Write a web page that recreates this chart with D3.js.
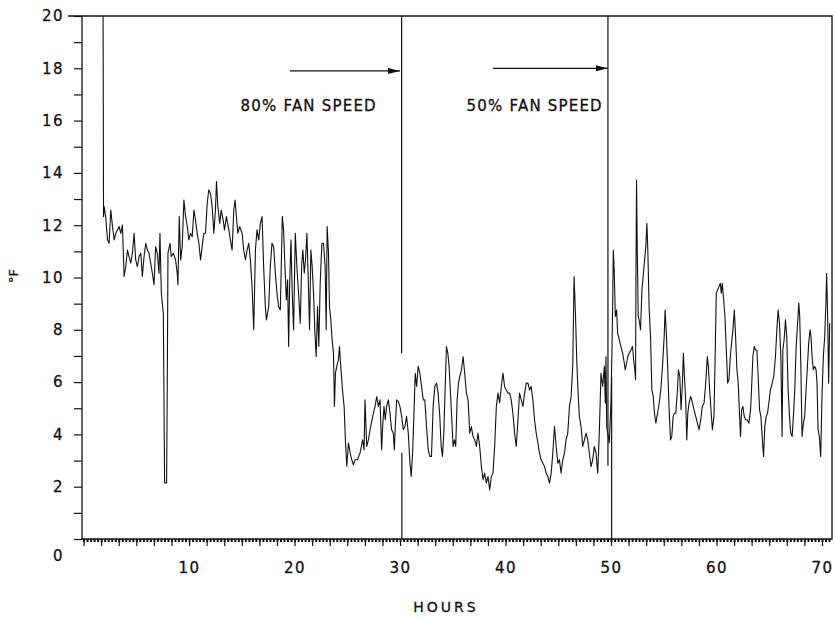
<!DOCTYPE html>
<html>
<head>
<meta charset="utf-8">
<script src="https://d3js.org/d3.v7.min.js"></script>
<style>
  body { margin: 0; background: #fff; }
  svg text { font-family: "DejaVu Sans", sans-serif; fill: #111; stroke: #111; stroke-width: 0.3px; }
</style>
</head>
<body>
<svg id="chart" width="836" height="618"></svg>
<script>

// temperature trace (hours, °F)
var hours = [
  1.85, 1.89, 1.95, 2.11, 2.27, 2.42, 2.58, 2.74, 2.90, 3.05, 3.21, 3.37, 3.53, 3.68, 3.84, 4.00,
  4.16, 4.31, 4.47, 4.63, 4.79, 4.94, 5.10, 5.26, 5.42, 5.57, 5.73, 5.89, 6.05, 6.20, 6.36, 6.52,
  6.68, 6.83, 6.99, 7.15, 7.24, 7.37, 7.56, 7.68, 7.87, 7.94, 8.00, 8.19, 8.31, 8.50, 8.72, 8.88,
  8.94, 9.07, 9.20, 9.35, 9.51, 9.67, 9.83, 9.98, 10.14, 10.30, 10.46, 10.61, 10.77, 10.93, 11.09, 11.24,
  11.40, 11.56, 11.72, 11.87, 12.03, 12.19, 12.35, 12.50, 12.60, 12.73, 12.91, 13.04, 13.23, 13.36, 13.54, 13.77,
  13.92, 14.08, 14.24, 14.36, 14.49, 14.62, 14.80, 15.03, 15.18, 15.34, 15.50, 15.66, 15.81, 15.97, 16.13, 16.29,
  16.44, 16.60, 16.76, 16.92, 17.07, 17.23, 17.33, 17.55, 17.70, 17.86, 18.02, 18.18, 18.33, 18.49, 18.65, 18.74,
  18.84, 18.96, 19.09, 19.22, 19.34, 19.44, 19.53, 19.66, 19.78, 19.91, 20.07, 20.22, 20.38, 20.54, 20.67, 20.79,
  20.92, 21.04, 21.17, 21.30, 21.42, 21.55, 21.67, 21.80, 21.93, 22.05, 22.18, 22.30, 22.43, 22.59, 22.74, 22.90,
  23.00, 23.09, 23.22, 23.31, 23.44, 23.56, 23.69, 23.78, 23.88, 24.00, 24.16, 24.26, 24.38, 24.57, 24.70, 24.82,
  24.95, 25.11, 25.27, 25.42, 25.58, 25.74, 25.96, 26.21, 26.46, 26.59, 26.68, 26.84, 27.00, 27.16, 27.41, 27.63,
  27.79, 27.94, 28.10, 28.26, 28.35, 28.48, 28.60, 28.73, 28.89, 29.05, 29.20, 29.36, 29.46, 29.55, 29.68, 29.83,
  29.99, 30.15, 30.31, 30.46, 30.62, 30.78, 30.94, 31.06, 31.19, 31.31, 31.44, 31.57, 31.72, 31.88, 32.04, 32.20,
  32.35, 32.51, 32.67, 32.83, 32.98, 33.14, 33.30, 33.46, 33.61, 33.77, 33.90, 34.02, 34.15, 34.28, 34.40, 34.53,
  34.65, 34.78, 34.91, 35.03, 35.16, 35.28, 35.41, 35.54, 35.66, 35.82, 35.98, 36.13, 36.29, 36.45, 36.61, 36.76,
  36.92, 37.08, 37.24, 37.39, 37.55, 37.71, 37.87, 38.02, 38.18, 38.34, 38.50, 38.65, 38.81, 38.97, 39.13, 39.29,
  39.44, 39.60, 39.76, 39.91, 40.07, 40.23, 40.39, 40.54, 40.70, 40.86, 41.02, 41.18, 41.33, 41.49, 41.65, 41.81,
  41.96, 42.12, 42.28, 42.43, 42.59, 42.75, 42.91, 43.07, 43.22, 43.38, 43.54, 43.70, 43.85, 44.01, 44.17, 44.33,
  44.48, 44.64, 44.80, 44.96, 45.11, 45.27, 45.43, 45.59, 45.74, 45.90, 46.06, 46.22, 46.37, 46.50, 46.63, 46.75,
  46.88, 47.00, 47.16, 47.32, 47.48, 47.63, 47.79, 47.95, 48.11, 48.26, 48.42, 48.58, 48.74, 48.89, 49.05, 49.21,
  49.37, 49.46, 49.52, 49.59, 49.84, 50.00, 50.09, 50.15, 50.22, 50.31, 50.41, 50.53, 50.63, 50.78, 50.94, 51.10,
  51.26, 51.35, 51.48, 51.60, 51.73, 51.89, 52.04, 52.17, 52.26, 52.33, 52.36, 52.42, 52.49, 52.58, 52.67, 52.80,
  52.93, 53.05, 53.18, 53.30, 53.40, 53.49, 53.62, 53.75, 53.87, 54.00, 54.12, 54.25, 54.41, 54.57, 54.72, 54.88,
  55.04, 55.13, 55.26, 55.38, 55.51, 55.64, 55.76, 55.89, 56.01, 56.14, 56.30, 56.39, 56.52, 56.64, 56.77, 56.86,
  56.96, 57.09, 57.18, 57.28, 57.40, 57.56, 57.72, 57.87, 58.03, 58.19, 58.35, 58.50, 58.66, 58.82, 58.98, 59.13,
  59.23, 59.35, 59.48, 59.61, 59.76, 59.86, 59.98, 60.11, 60.24, 60.36, 60.46, 60.55, 60.68, 60.80, 60.93, 61.06,
  61.18, 61.31, 61.43, 61.56, 61.69, 61.81, 61.94, 62.06, 62.19, 62.28, 62.38, 62.50, 62.63, 62.76, 62.91, 63.07,
  63.23, 63.32, 63.45, 63.58, 63.70, 63.83, 63.95, 64.08, 64.21, 64.33, 64.46, 64.58, 64.71, 64.84, 64.96, 65.12,
  65.28, 65.43, 65.59, 65.72, 65.84, 65.97, 66.10, 66.22, 66.29, 66.41, 66.54, 66.66, 66.79, 66.92, 67.04, 67.17,
  67.29, 67.42, 67.54, 67.67, 67.80, 67.89, 67.99, 68.11, 68.24, 68.36, 68.49, 68.62, 68.74, 68.87, 68.96, 69.06,
  69.18, 69.31, 69.44, 69.53, 69.63, 69.75, 69.88, 70.00, 70.13, 70.26, 70.38, 70.44, 70.54, 70.63, 70.73
];
var tempF = [
  20.0, 12.33, 12.71, 12.26, 11.44, 11.31, 12.58, 11.95, 11.44, 11.69, 11.82, 11.95, 11.69, 12.01, 10.04, 10.42,
  11.05, 10.80, 10.55, 10.93, 11.69, 10.67, 10.42, 10.80, 10.93, 10.04, 10.80, 11.31, 11.05, 10.93, 10.55, 10.16,
  9.72, 11.18, 10.93, 10.16, 11.69, 9.40, 8.63, 2.14, 2.14, 6.34, 10.93, 11.31, 10.80, 10.93, 10.67, 10.16,
  9.72, 12.33, 10.67, 11.18, 12.96, 12.33, 11.95, 11.44, 11.69, 11.56, 12.58, 12.20, 11.69, 11.31, 10.67, 11.18,
  11.69, 11.69, 12.84, 13.35, 13.22, 12.71, 11.69, 12.58, 13.67, 12.71, 12.07, 12.58, 12.20, 11.82, 12.33, 11.82,
  11.44, 11.05, 12.58, 12.96, 12.33, 11.69, 11.95, 11.69, 11.05, 10.67, 11.05, 11.31, 10.67, 9.65, 8.00, 11.05,
  11.82, 11.44, 12.07, 12.33, 10.42, 8.89, 8.38, 8.89, 10.42, 11.31, 11.18, 10.16, 9.40, 8.89, 8.76, 10.42,
  12.33, 11.82, 10.42, 9.14, 9.91, 7.36, 9.65, 11.44, 9.40, 8.00, 11.69, 10.42, 9.40, 8.25, 10.42, 11.05,
  10.16, 10.67, 11.69, 9.91, 8.00, 11.05, 10.42, 9.40, 7.87, 6.98, 8.89, 7.36, 9.78, 11.31, 11.31, 10.42,
  8.00, 11.95, 10.93, 8.89, 8.38, 7.62, 7.11, 5.07, 6.34, 6.60, 6.85, 7.36, 6.60, 5.58, 5.07, 3.79,
  2.78, 3.67, 3.29, 3.03, 2.84, 3.03, 3.03, 3.29, 3.79, 3.41, 5.32, 3.54, 3.79, 4.18, 4.69, 5.07,
  5.45, 5.07, 5.32, 3.41, 4.30, 5.07, 4.56, 5.07, 5.32, 4.81, 4.18, 4.05, 3.41, 4.30, 5.32, 5.26,
  5.07, 4.69, 4.18, 4.30, 4.69, 4.05, 2.90, 2.39, 3.28, 4.69, 6.34, 5.83, 6.60, 6.34, 5.83, 5.32,
  5.32, 4.30, 3.41, 3.16, 3.16, 5.07, 5.83, 5.96, 5.58, 4.69, 3.54, 3.16, 4.05, 5.83, 7.36, 7.11,
  6.60, 5.58, 4.56, 3.54, 3.79, 3.54, 5.32, 5.96, 6.21, 6.47, 6.98, 6.34, 5.58, 5.32, 4.05, 4.30,
  3.92, 3.79, 3.54, 4.05, 3.54, 2.77, 2.27, 2.52, 2.14, 2.39, 1.88, 2.39, 2.52, 3.54, 5.07, 5.58,
  5.20, 5.83, 6.34, 5.83, 5.70, 5.58, 5.58, 5.32, 4.81, 4.05, 3.54, 4.56, 5.58, 5.32, 5.07, 5.58,
  5.96, 5.96, 5.70, 5.83, 5.32, 4.56, 4.05, 3.67, 3.28, 3.03, 2.90, 2.77, 2.52, 2.39, 2.14, 2.52,
  3.28, 4.30, 3.54, 2.90, 3.03, 2.52, 3.03, 3.28, 3.79, 4.05, 5.07, 5.45, 6.60, 10.04, 8.63, 6.85,
  5.58, 4.69, 4.30, 3.54, 3.79, 4.05, 3.79, 3.28, 2.77, 3.03, 3.54, 3.28, 2.52, 4.05, 6.34, 5.83,
  6.60, 5.20, 6.98, 4.30, 3.67, 5.32, 7.23, 8.76, 11.05, 10.16, 8.51, 8.76, 7.87, 7.62, 7.36, 7.11,
  6.73, 6.47, 6.73, 6.98, 7.11, 7.23, 7.36, 6.73, 6.47, 6.09, 9.78, 13.73, 11.05, 8.51, 8.38, 8.00,
  9.53, 10.04, 10.67, 11.18, 12.07, 11.05, 8.76, 7.74, 5.71, 5.45, 4.81, 4.43, 4.81, 5.20, 5.71, 6.60,
  7.74, 8.76, 7.74, 6.47, 4.94, 3.79, 3.92, 4.69, 4.81, 4.81, 5.71, 6.47, 6.22, 4.94, 5.96, 7.11,
  6.22, 5.20, 3.79, 4.81, 5.20, 5.45, 5.20, 4.94, 4.69, 4.43, 4.18, 4.56, 5.07, 5.20, 5.96, 6.98,
  6.60, 5.71, 4.94, 4.18, 4.69, 6.73, 9.40, 9.53, 9.65, 9.78, 9.40, 9.78, 9.14, 8.51, 7.23, 5.96,
  6.09, 6.98, 7.49, 8.00, 8.76, 7.74, 6.47, 5.96, 4.69, 3.92, 4.94, 5.07, 4.69, 4.56, 4.56, 4.43,
  4.94, 5.71, 6.98, 7.36, 7.23, 7.23, 6.22, 4.94, 4.69, 3.92, 3.16, 4.30, 4.69, 4.81, 5.20, 5.71,
  5.96, 6.22, 6.98, 8.00, 8.76, 8.25, 6.98, 3.92, 7.23, 7.62, 8.38, 7.74, 5.71, 4.69, 4.05, 3.92,
  4.69, 5.71, 7.23, 8.13, 9.02, 8.51, 6.73, 3.92, 4.43, 4.69, 5.71, 6.60, 7.49, 8.00, 7.74, 6.98,
  6.47, 6.60, 6.47, 5.96, 4.18, 3.92, 3.16, 5.45, 6.98, 7.74, 9.14, 10.16, 8.51, 5.96, 8.25
];

// fan speed change markers: hour, top and bottom of each stroke (°F)
var markerHours = [30.15, 30.17, 49.71, 50.06];
var markerTop = [20, 3.3, 20, 6.2];
var markerBottom = [7.1, 0, 2.8, 0];

// annotations
var noteText = ["80% FAN SPEED", "50% FAN SPEED"];
var noteEndHour = [27.8, 49.23];
var noteValue = [16.38, 16.38];
var arrowFrom = [19.56, 38.8];
var arrowTo = [30.0, 49.7];
var arrowValue = [17.9, 18.0];

// tick labels
var yTickLabels = [0, 2, 4, 6, 8, 10, 12, 14, 16, 18, 20];
var xTickLabels = [10, 20, 30, 40, 50, 60, 70];

var svg = d3.select("#chart");
var padLeft = 82, padRight = 832, padTop = 16, padBottom = 539;

var x = d3.scaleLinear().domain([-0.15, 70.95]).range([padLeft, padRight]);
var y = d3.scaleLinear().domain([0, 20]).range([padBottom, padTop]);

// y axis: tick every degree, label every second one
var yAxis = svg.append("g")
  .attr("transform", "translate(" + padLeft + ",0)")
  .call(d3.axisLeft(y)
    .tickValues(d3.range(0, 21, 1))
    .tickSize(8)
    .tickPadding(10)
    .tickFormat(function(d) { return yTickLabels.indexOf(d) >= 0 ? d : ""; }));
yAxis.select(".domain").remove();
yAxis.selectAll("line").attr("stroke", "#111").attr("stroke-width", 1.2);
yAxis.selectAll("text")
  .style("font-size", "15px")
  .style("letter-spacing", "1.5px");
// the zero label sits below the corner
yAxis.selectAll(".tick").filter(function(d) { return d === 0; })
  .select("text").attr("dy", "1.45em");

// x axis: small ticks every 20 min, longer ones every 100 min
var minorAxis = svg.append("g")
  .attr("transform", "translate(0," + padBottom + ")")
  .call(d3.axisBottom(x).tickValues(d3.range(0, 71, 1 / 3)).tickSize(3).tickFormat(""));
minorAxis.select(".domain").remove();
minorAxis.selectAll("line").attr("stroke", "#111").attr("stroke-width", 2);

var majorAxis = svg.append("g")
  .attr("transform", "translate(0," + padBottom + ")")
  .call(d3.axisBottom(x).tickValues(d3.range(0, 71, 5 / 3)).tickSize(7).tickFormat(""));
majorAxis.select(".domain").remove();
majorAxis.selectAll("line").attr("stroke", "#111").attr("stroke-width", 1.2);

var labelAxis = svg.append("g")
  .attr("transform", "translate(0," + padBottom + ")")
  .call(d3.axisBottom(x).tickValues(xTickLabels).tickSize(0).tickPadding(23));
labelAxis.select(".domain").remove();
labelAxis.selectAll("text")
  .style("font-size", "15px")
  .style("letter-spacing", "1.5px");

// frame
svg.append("path")
  .attr("d", "M" + (padLeft - 14) + "," + padTop + "H" + padRight + "V" + padBottom + "H" + padLeft + "V" + padTop)
  .attr("fill", "none")
  .attr("stroke", "#111")
  .attr("stroke-width", 1.3);

// axis titles
svg.append("text")
  .attr("x", 446)
  .attr("y", 612)
  .attr("text-anchor", "middle")
  .style("font-size", "14px")
  .style("letter-spacing", "3px")
  .text("HOURS");

svg.append("text")
  .attr("transform", "translate(18,276) rotate(-90)")
  .attr("text-anchor", "middle")
  .style("font-size", "13px")
  .text("°F");

// fan speed marker strokes
svg.append("g").selectAll("line")
  .data(markerHours)
  .enter()
  .append("line")
  .attr("x1", function(d) { return x(d); })
  .attr("x2", function(d) { return x(d); })
  .attr("y1", function(d, i) { return y(markerTop[i]); })
  .attr("y2", function(d, i) { return y(markerBottom[i]); })
  .attr("stroke", "#111")
  .attr("stroke-width", 1.2);

// the trace
var points = hours.map(function(h, i) { return [h, tempF[i]]; });
svg.append("path")
  .datum(points)
  .attr("d", d3.line()
    .x(function(d) { return x(d[0]); })
    .y(function(d) { return y(d[1]); }))
  .attr("fill", "none")
  .attr("stroke", "#111")
  .attr("stroke-width", 1.1)
  .attr("stroke-linejoin", "round");

// arrows
svg.append("defs").append("marker")
  .attr("id", "head")
  .attr("viewBox", "0 0 12 6")
  .attr("refX", 12)
  .attr("refY", 3)
  .attr("markerWidth", 12)
  .attr("markerHeight", 6)
  .attr("markerUnits", "userSpaceOnUse")
  .attr("orient", "auto")
  .append("path")
  .attr("d", "M0,0L12,3L0,6Z")
  .attr("fill", "#111");

svg.append("g").selectAll("line")
  .data(arrowFrom)
  .enter()
  .append("line")
  .attr("x1", function(d) { return x(d); })
  .attr("x2", function(d, i) { return x(arrowTo[i]); })
  .attr("y1", function(d, i) { return y(arrowValue[i]); })
  .attr("y2", function(d, i) { return y(arrowValue[i]); })
  .attr("stroke", "#111")
  .attr("stroke-width", 1.3)
  .attr("marker-end", "url(#head)");

svg.append("g").selectAll("text")
  .data(noteText)
  .enter()
  .append("text")
  .attr("x", function(d, i) { return x(noteEndHour[i]); })
  .attr("y", function(d, i) { return y(noteValue[i]); })
  .attr("text-anchor", "end")
  .style("font-size", "15px")
  .style("letter-spacing", "1.2px")
  .text(function(d) { return d; });

</script>
</body>
</html>
